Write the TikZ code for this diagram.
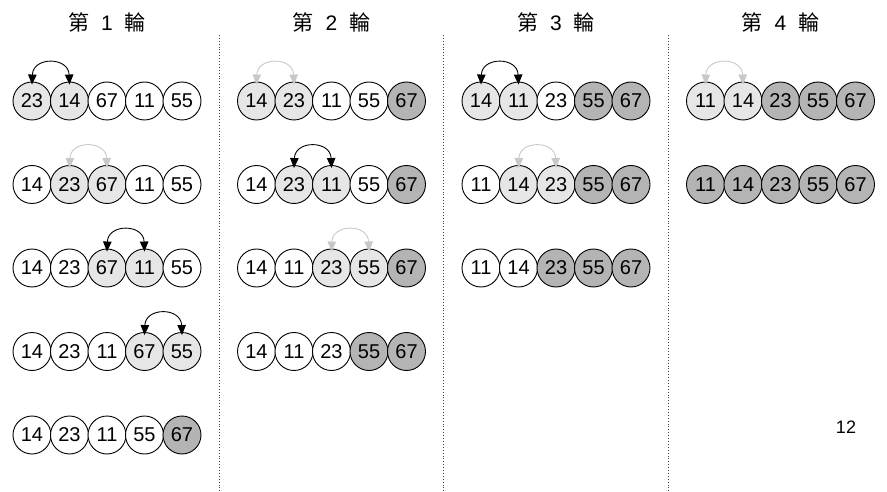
\documentclass[tikz,border=0pt]{standalone}
\usepackage{fontspec}
\setmainfont{Liberation Sans}
\newfontfamily\cjkfont{Noto Sans CJK TC}
\usetikzlibrary{arrows.meta}
\definecolor{lightfill}{HTML}{E6E6E6}
\definecolor{darkfill}{HTML}{B4B4B4}
\definecolor{noswap}{HTML}{C8C8C8}
\tikzset{
  ball/.style={circle,draw=black,line width=0.9pt,minimum size=38pt,inner sep=0pt,font=\fontsize{20}{20}\selectfont},
  lt/.style={ball,fill=lightfill},
  dk/.style={ball,fill=darkfill},
  pl/.style={ball,fill=white},
  swaparrow/.style={line width=0.9pt,{Triangle[length=10pt,width=8.5pt]}-{Triangle[length=10pt,width=8.5pt]}},
  keeparrow/.style={swaparrow,draw=noswap,color=noswap},
  sep/.style={draw=black!75,line width=0.9pt,dotted},
  title/.style={font=\fontsize{21}{21}\selectfont}
}
\newcommand{\ballrow}[4]{%
  \foreach \st/\lb [count=\i from 0] in {#4} {
    \node[\st] (#3\i) at ({32+224.5*#1+37.5*\i},{101+83.5*#2}) {\lb};
  }%
}
\newcommand{\swapmark}[3]{%
  \draw[#1] ([yshift=-3pt]#2.north) .. controls +(1,-28) and +(-1,-28) .. ([yshift=-3pt]#3.north);%
}
\newcommand{\roundtitle}[1]{{\cjkfont 第}\hspace{12pt}#1\hspace{12pt}{\cjkfont 輪}}
\begin{document}
\begin{tikzpicture}[x=1pt,y=-1pt]
\useasboundingbox (0,0) rectangle (887,492);
% titles
\node[title] (t1) at (107,22) {\roundtitle{1}};
\node[title] (t2) at (331.5,22) {\roundtitle{2}};
\node[title] (t3) at (556,22) {\roundtitle{3}};
\node[title] (t4) at (780.5,22) {\roundtitle{4}};
% separators
\coordinate (s1a) at (219,35); \coordinate (s1b) at (219,492);
\coordinate (s2a) at (443.5,35); \coordinate (s2b) at (443.5,492);
\coordinate (s3a) at (668,35); \coordinate (s3b) at (668,492);
\draw[sep] (s1a) -- (s1b);
\draw[sep] (s2a) -- (s2b);
\draw[sep] (s3a) -- (s3b);
% column 1
\ballrow{0}{0}{a}{lt/23,lt/14,pl/67,pl/11,pl/55}
\ballrow{0}{1}{b}{pl/14,lt/23,lt/67,pl/11,pl/55}
\ballrow{0}{2}{c}{pl/14,pl/23,lt/67,lt/11,pl/55}
\ballrow{0}{3}{d}{pl/14,pl/23,pl/11,lt/67,lt/55}
\ballrow{0}{4}{e}{pl/14,pl/23,pl/11,pl/55,dk/67}
\swapmark{swaparrow}{a0}{a1}
\swapmark{keeparrow}{b1}{b2}
\swapmark{swaparrow}{c2}{c3}
\swapmark{swaparrow}{d3}{d4}
% column 2
\ballrow{1}{0}{f}{lt/14,lt/23,pl/11,pl/55,dk/67}
\ballrow{1}{1}{g}{pl/14,lt/23,lt/11,pl/55,dk/67}
\ballrow{1}{2}{h}{pl/14,pl/11,lt/23,lt/55,dk/67}
\ballrow{1}{3}{k}{pl/14,pl/11,pl/23,dk/55,dk/67}
\swapmark{keeparrow}{f0}{f1}
\swapmark{swaparrow}{g1}{g2}
\swapmark{keeparrow}{h2}{h3}
% column 3
\ballrow{2}{0}{m}{lt/14,lt/11,pl/23,dk/55,dk/67}
\ballrow{2}{1}{n}{pl/11,lt/14,lt/23,dk/55,dk/67}
\ballrow{2}{2}{p}{pl/11,pl/14,dk/23,dk/55,dk/67}
\swapmark{swaparrow}{m0}{m1}
\swapmark{keeparrow}{n1}{n2}
% column 4
\ballrow{3}{0}{q}{lt/11,lt/14,dk/23,dk/55,dk/67}
\ballrow{3}{1}{r}{dk/11,dk/14,dk/23,dk/55,dk/67}
\swapmark{keeparrow}{q0}{q1}
% page number
\node[font=\fontsize{18}{18}\selectfont] (pg) at (846,427) {12};
\end{tikzpicture}
\end{document}
